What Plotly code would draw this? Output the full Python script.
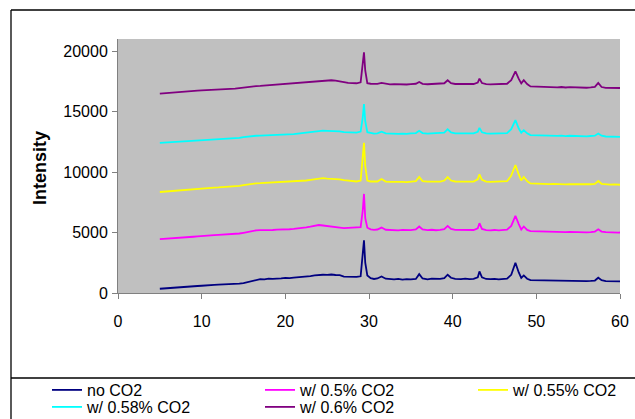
import plotly.graph_objects as go

# ---------------- data ----------------
two_theta = [
    5, 5.5, 6, 6.5, 7, 7.5, 8, 8.5, 9, 9.5,
    10, 10.5, 11, 11.5, 12, 12.5, 13, 13.5, 14, 14.5,
    15, 15.5, 16, 16.5, 17, 17.5, 18, 18.5, 19, 19.5,
    20, 20.5, 21, 21.5, 22, 22.5, 23, 23.5, 24, 24.5,
    25, 25.5, 26, 26.5, 27, 27.5, 28, 28.5,
    29.0, 29.25, 29.4, 29.55, 29.8,
    30.2, 30.6, 31.0, 31.5, 32.0, 32.5, 33, 33.5, 34, 34.5,
    35, 35.6, 36.0, 36.4, 37, 37.5, 38, 38.5, 39.0, 39.4,
    39.8, 40.3, 41, 41.5, 42, 42.5, 43.0, 43.2, 43.5, 44,
    44.5, 45, 45.5, 46, 46.5, 47.0, 47.5, 47.9, 48.2, 48.5,
    48.9, 49.3, 50, 50.5, 51, 51.5, 52, 52.5, 53, 53.5,
    54, 54.5, 55, 55.5, 56, 56.5, 57, 57.4, 57.8, 58.3,
    58.8, 59.3, 59.8, 60,
]

no_co2 = [
    350, 380, 420, 400, 460, 470, 510, 530, 560, 580,
    600, 640, 620, 670, 690, 700, 730, 720, 760, 780,
    820, 900, 1000, 1080, 1140, 1130, 1190, 1170, 1220, 1210,
    1250, 1230, 1280, 1300, 1320, 1360, 1400, 1450, 1490, 1510,
    1500, 1530, 1490, 1470, 1360, 1340, 1310, 1330,
    1380, 2900, 4350, 2500, 1450,
    1220, 1160, 1200, 1370, 1180, 1150, 1120, 1170, 1110, 1150,
    1120, 1160, 1560, 1200, 1130, 1180, 1140, 1160, 1230, 1510,
    1260, 1170, 1150, 1190, 1140, 1170, 1300, 1780, 1300, 1160,
    1140, 1170, 1130, 1160, 1190, 1500, 2500, 1700, 1250, 1450,
    1180, 1060, 1050, 1030, 1060, 1020, 1040, 1000, 1030, 980,
    1020, 1010, 990, 1010, 980, 1000, 1030, 1260, 1060, 990,
    970, 980, 950, 960,
]

co2_050 = [
    4450, 4470, 4500, 4490, 4540, 4560, 4600, 4610, 4650, 4680,
    4720, 4700, 4760, 4780, 4800, 4820, 4830, 4860, 4890, 4920,
    4980, 5050, 5140, 5180, 5200, 5190, 5220, 5210, 5240, 5230,
    5240, 5270, 5300, 5320, 5380, 5420, 5480, 5560, 5620, 5580,
    5520, 5460, 5440, 5400, 5360, 5380, 5350, 5370,
    5450, 6800, 8190, 6200, 5400,
    5260, 5220, 5250, 5410, 5230, 5200, 5210, 5180, 5220, 5190,
    5200, 5250, 5500, 5250, 5200, 5230, 5190, 5220, 5280, 5550,
    5300, 5220, 5200, 5230, 5180, 5210, 5350, 5770, 5300, 5200,
    5180, 5210, 5170, 5200, 5230, 5550, 6370, 5700, 5250, 5500,
    5220, 5120, 5100, 5080, 5110, 5060, 5080, 5040, 5070, 5030,
    5060, 5040, 5020, 5050, 5010, 5040, 5080, 5270, 5080, 5030,
    5000, 5020, 4990, 5000,
]

co2_055 = [
    8350, 8380, 8420, 8440, 8480, 8500, 8560, 8580, 8600, 8630,
    8660, 8670, 8700, 8720, 8730, 8750, 8760, 8780, 8800, 8850,
    8920, 8980, 9040, 9070, 9080, 9100, 9110, 9120, 9130, 9150,
    9150, 9180, 9200, 9220, 9260, 9300, 9360, 9420, 9470, 9490,
    9460, 9450, 9450, 9400, 9330, 9290, 9250, 9220,
    9300, 10900, 12420, 10500, 9300,
    9220, 9190, 9220, 9420, 9210, 9180, 9200, 9170, 9190, 9160,
    9200, 9250, 9590, 9250, 9200, 9220, 9180, 9210, 9300, 9590,
    9300, 9220, 9200, 9220, 9190, 9210, 9400, 9810, 9350, 9210,
    9190, 9200, 9180, 9210, 9240, 9700, 10580, 9800, 9300, 9590,
    9250, 9060, 9030, 9010, 9040, 9000, 9020, 8990, 9010, 8980,
    9000, 8990, 8970, 9000, 8960, 8990, 9020, 9260, 9030, 8970,
    8960, 8980, 8940, 8950,
]

co2_058 = [
    12420, 12440, 12460, 12480, 12500, 12530, 12560, 12580, 12600, 12620,
    12640, 12650, 12680, 12700, 12710, 12730, 12740, 12760, 12780, 12820,
    12880, 12930, 12980, 13000, 13010, 13020, 13030, 13040, 13050, 13050,
    13060, 13100, 13130, 13170, 13210, 13260, 13310, 13360, 13400, 13420,
    13410, 13400, 13400, 13360, 13300, 13270, 13250, 13260,
    13350, 14500, 15610, 14200, 13300,
    13220, 13180, 13200, 13330, 13200, 13170, 13190, 13160, 13180, 13150,
    13190, 13220, 13410, 13220, 13180, 13200, 13170, 13200, 13260, 13540,
    13280, 13200, 13190, 13210, 13180, 13200, 13330, 13650, 13290, 13190,
    13170, 13190, 13160, 13190, 13220, 13550, 14290, 13600, 13250, 13460,
    13200, 13050, 13030, 13010, 13040, 13000, 13020, 12990, 13010, 12970,
    13000, 12980, 12960, 12990, 12950, 12980, 13010, 13190, 13000, 12940,
    12920, 12940, 12900, 12910,
]

co2_060 = [
    16490, 16510, 16530, 16550, 16580, 16600, 16640, 16660, 16700, 16730,
    16760, 16770, 16800, 16820, 16840, 16860, 16870, 16890, 16900, 16940,
    16990, 17040, 17080, 17100, 17120, 17150, 17180, 17200, 17240, 17270,
    17310, 17330, 17350, 17380, 17410, 17440, 17470, 17500, 17530, 17570,
    17590, 17590, 17560, 17480, 17400, 17370, 17350, 17340,
    17420, 18700, 19900, 18400, 17350,
    17300, 17270, 17290, 17370, 17280, 17250, 17270, 17240, 17260, 17240,
    17270, 17300, 17450, 17290, 17260, 17280, 17250, 17280, 17340, 17590,
    17350, 17280, 17270, 17290, 17260, 17280, 17400, 17720, 17360, 17270,
    17250, 17270, 17240, 17270, 17300, 17600, 18330, 17700, 17330, 17590,
    17280, 17080, 17060, 17040, 17060, 17020, 17040, 17000, 17030, 16990,
    17020, 17000, 16980, 17010, 16970, 17000, 17040, 17370, 17030, 16960,
    16950, 16970, 16940, 16950,
]

series_names = ["no CO2", "w/ 0.5% CO2", "w/ 0.55% CO2", "w/ 0.58% CO2", "w/ 0.6% CO2"]
series_values = [no_co2, co2_050, co2_055, co2_058, co2_060]
series_colors = ["#000080", "#FF00FF", "#FFFF00", "#00FFFF", "#800080"]

x_ticks = [0, 10, 20, 30, 40, 50, 60]
y_ticks = [0, 5000, 10000, 15000, 20000]
y_title = "Intensity"

for v in series_values:
    assert len(v) == len(two_theta), (len(v), len(two_theta))

# ---------------- layout geometry (pixels) ----------------
W, H = 635, 419
ML, MR, MT, MB = 118, 15, 39, 126
PW, PH = W - ML - MR, H - MT - MB


def px_x(px):
    return (px - ML) / PW


def px_y(py):
    return (H - MB - py) / PH


FONT = "Liberation Sans, Arial, sans-serif"

fig = go.Figure()

# legend positions (left edge px, row center px) per entry
legend_pos = [(47, 390), (260, 390), (473, 390), (47, 407), (260, 407)]
legend_ids = ["legend", "legend2", "legend3", "legend4", "legend5"]

for name, vals, col, lid in zip(series_names, series_values, series_colors, legend_ids):
    fig.add_trace(go.Scatter(
        x=two_theta, y=vals, mode="lines", name=name,
        line=dict(color=col, width=1.8),
        legend=lid,
    ))

legend_layouts = {}
for lid, (lx, ly) in zip(legend_ids, legend_pos):
    legend_layouts[lid] = dict(
        x=px_x(lx), y=px_y(ly), xanchor="left", yanchor="middle",
        orientation="v", bgcolor="rgba(0,0,0,0)", borderwidth=0,
        font=dict(family=FONT, size=16, color="black"),
        itemwidth=30, tracegroupgap=0,
    )

frame = dict(color="black", width=1.3)
shapes = [
    # outer chart frame: top and left edges
    dict(type="line", xref="paper", yref="paper",
         x0=px_x(11), x1=px_x(660), y0=px_y(10), y1=px_y(10), line=frame),
    dict(type="line", xref="paper", yref="paper",
         x0=px_x(11), x1=px_x(11), y0=px_y(10), y1=px_y(440), line=frame),
    # legend box top edge
    dict(type="line", xref="paper", yref="paper",
         x0=px_x(11), x1=px_x(660), y0=px_y(378), y1=px_y(378), line=frame),
]

fig.update_layout(
    width=W, height=H,
    margin=dict(l=ML, r=MR, t=MT, b=MB, autoexpand=False),
    paper_bgcolor="white",
    plot_bgcolor="#C0C0C0",
    font=dict(family=FONT, size=16, color="black"),
    showlegend=True,
    shapes=shapes,
    annotations=[dict(
        text="<b>" + y_title + "</b>", xref="paper", yref="paper",
        x=px_x(40), y=px_y(168), textangle=-90, showarrow=False,
        font=dict(family=FONT, size=18, color="black"),
        xanchor="center", yanchor="middle",
    )],
    **legend_layouts,
)

fig.update_xaxes(
    range=[0, 60], tickvals=x_ticks, ticktext=[str(t) for t in x_ticks],
    showgrid=False, zeroline=False,
    showline=True, linecolor="#808080", linewidth=1,
    ticks="outside", ticklen=5, tickcolor="#808080", tickwidth=1,
    tickfont=dict(family=FONT, size=16, color="black"),
    ticklabelstandoff=9,
)
fig.update_yaxes(
    range=[0, 21000], tickvals=y_ticks, ticktext=[str(t) for t in y_ticks],
    showgrid=False, zeroline=False,
    showline=True, linecolor="#808080", linewidth=1,
    ticks="outside", ticklen=5, tickcolor="#808080", tickwidth=1,
    tickfont=dict(family=FONT, size=16, color="black"),
    ticklabelstandoff=1,
)

fig.write_html(
    "out.html",
    config={"displayModeBar": False},
    post_script="document.body.style.margin='0px';",
)
